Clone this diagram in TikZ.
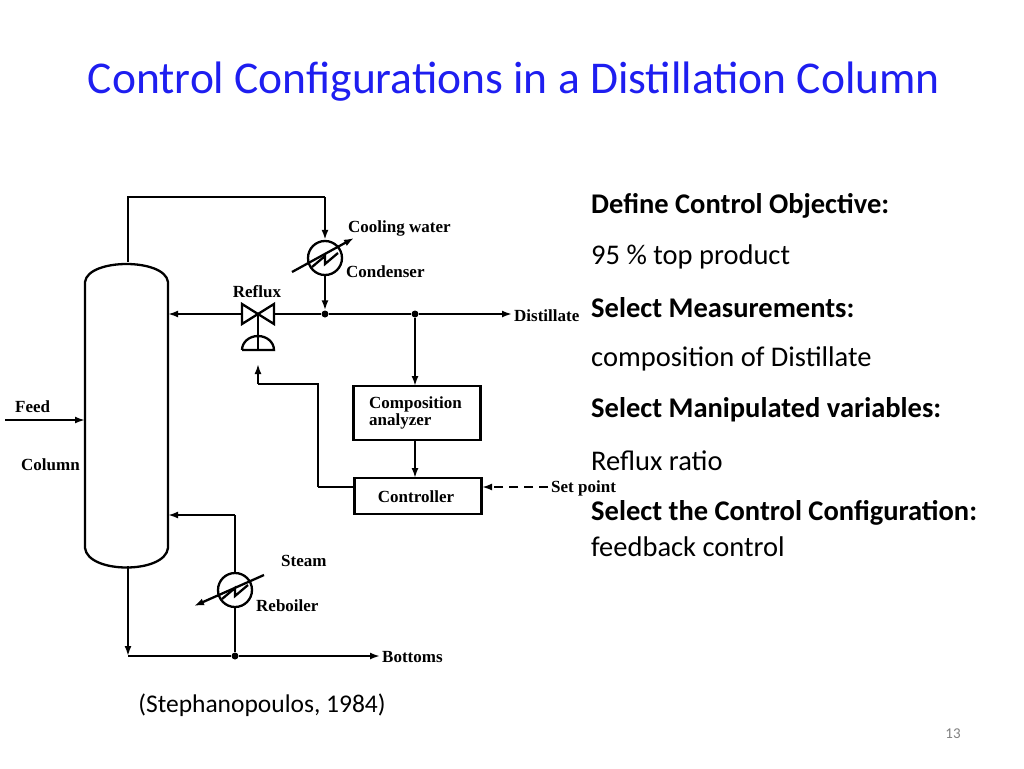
\documentclass[tikz,border=0pt]{standalone}
\usepackage{fontspec}
\setmainfont{Carlito}
\newfontfamily\serif{Liberation Serif}
\usetikzlibrary{arrows.meta}
\definecolor{ttl}{RGB}{30,30,240}
\begin{document}
\begin{tikzpicture}[x=1pt,y=-1pt,
  ln/.style={line width=2.3pt},
  ar/.style={ln,-{Latex[length=10pt,width=7pt]}},
  lab/.style={font=\serif\fontsize{17}{18}\selectfont\bfseries,inner sep=0pt},
  txt/.style={font=\fontsize{28.5}{32}\selectfont,anchor=west,inner sep=0pt},
  btxt/.style={txt,font=\fontsize{28.5}{32}\selectfont\bfseries},
  box/.style={draw,ln,minimum width=127pt,inner sep=0pt},
  dot/.style={circle,fill,inner sep=0pt,minimum size=7pt}]
\useasboundingbox (0,0) rectangle (1024,768);
\node[font=\fontsize{45.5}{50}\selectfont,text=ttl] (title) at (514,82) {Control Configurations in a Distillation Column};
% column
\draw[ln] (85,548) -- (85,282) .. controls (88,258) and (165,258) .. (168,282) -- (168,548) .. controls (165,574) and (88,574) .. (85,548);
\coordinate (ctop) at (128,262);
\coordinate (cbot) at (128,566);
% condenser
\node[draw,ln,circle,minimum size=34pt,inner sep=0pt] (cond) at (325,258) {};
\draw[ln] (cond.center) ++(-13,9) -- ++(13,-11) -- ++(0,8) -- ++(13,-11);
\coordinate (c1) at (292,272); \coordinate (c2) at (354,238);
\draw[ar] (c1) -- (c2);
\draw[ln] (ctop) -- (128,197) -- (325,197);
\draw[ar] (325,197) -- (cond.north);
\node[dot] (j1) at (325,314) {};
\node[dot] (j2) at (415,314) {};
\draw[ar] (cond.south) -- (j1);
\node[lab,anchor=west] (cw) at (348,228) {Cooling water};
\node[lab,anchor=west] (cn) at (346,272) {Condenser};
% valve
\coordinate (v) at (258,314);
\draw[ln,fill=white] (v) -- ++(-16,-10) -- ++(0,20) -- cycle;
\draw[ln,fill=white] (v) -- ++(16,-10) -- ++(0,20) -- cycle;
\node[lab] (rf) at (257,292) {Reflux};
\coordinate (colR) at (168,314);
\draw[ar] (242,314) -- (colR);
\draw[ln] (274,314) -- (j1) -- (j2);
\coordinate (dist) at (512,314);
\draw[ar] (j2) -- (dist);
\node[lab,anchor=west] (dl) at (514,316) {Distillate};
% actuator
\draw[ln] (v) -- (258,350);
\draw[ln] (242,350) -- (274,350) arc (0:-180:16 and 14);
\coordinate (act) at (258,364);
\draw[ln] (318,487) -- (318,384) -- (258,384);
\draw[ar] (258,384) -- (act);
% boxes
\node[box,minimum height=54pt] (ana) at (417,413) {};
\node[lab,anchor=north west,align=left] at (369,396) {Composition\\[-1pt]analyzer};
\node[box,minimum height=36pt] (ctl) at (418,496) {};
\node[lab] at (416,497) {Controller};
\draw[ar] (j2) -- (415,386);
\draw[ar] (415,440) -- (415,478);
\draw[ln] (318,487) -- (354,487);
\coordinate (sp) at (548,487);
\draw[ln,dashed,dash pattern=on 9pt off 6pt,-{Latex[length=10pt,width=7pt]}] (sp) -- (482,487);
\node[lab,anchor=west] (spl) at (551,488) {Set point};
% reboiler
\node[draw,ln,circle,minimum size=34pt,inner sep=0pt] (reb) at (235,590) {};
\draw[ln] (reb.center) ++(-13,9) -- ++(13,-11) -- ++(0,8) -- ++(13,-11);
\coordinate (r1) at (264,575); \coordinate (r2) at (194,606);
\draw[ar] (r1) -- (r2);
\coordinate (colR2) at (168,515);
\draw[ln] (reb.north) -- (235,515);
\draw[ar] (235,515) -- (colR2);
\node[dot] (j3) at (235,656) {};
\draw[ln] (reb.south) -- (j3);
\draw[ar] (cbot) -- (128,656);
\draw[ln] (128,656) -- (j3);
\coordinate (bot) at (380,656);
\draw[ar] (j3) -- (bot);
\node[lab,anchor=west] at (382,657) {Bottoms};
\node[lab,anchor=west] at (281,561) {Steam};
\node[lab,anchor=west] at (256,606) {Reboiler};
% feed
\coordinate (f0) at (5,420); \coordinate (f1) at (85,420);
\draw[ar] (f0) -- (f1);
\node[lab,anchor=west] at (15,407) {Feed};
\node[lab,anchor=west] at (21,465) {Column};
% right text
\node[btxt] at (591,206) {Define Control Objective:};
\node[txt] at (591,257) {95 \% top product};
\node[btxt] at (591,308) {Select Measurements:};
\node[txt] at (591,359) {composition of Distillate};
\node[btxt] at (591,410) {Select Manipulated variables:};
\node[txt] at (591,461) {Reflux ratio};
\node[btxt] at (591,513) {Select the Control Configuration:};
\node[txt] at (591,547) {feedback control};
\node[font=\fontsize{25.5}{28}\selectfont] at (262,705) {(Stephanopoulos, 1984)};
\node[font=\fontsize{15}{16}\selectfont,text=gray] at (953,734) {13};
\end{tikzpicture}
\end{document}
